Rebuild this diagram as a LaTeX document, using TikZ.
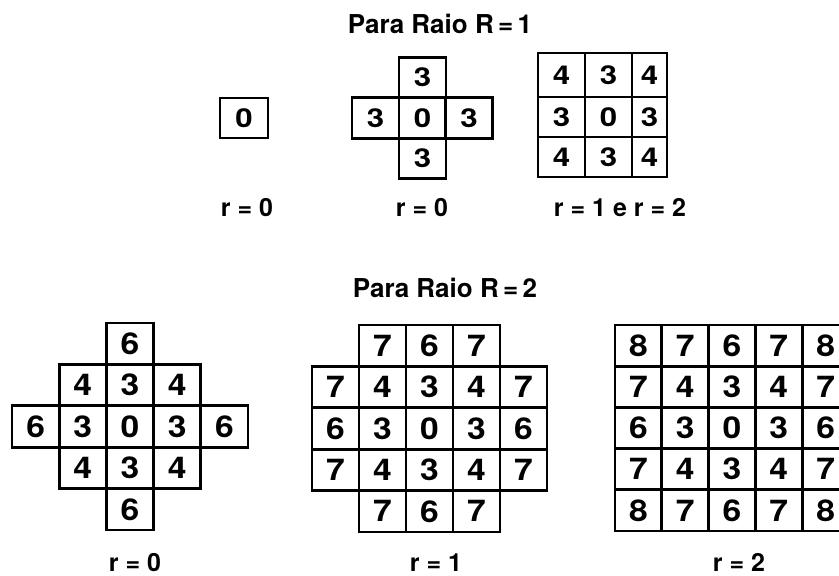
\documentclass[tikz,border=0pt]{standalone}
\usepackage{fontspec}
\setmainfont{TeX Gyre Heros}
\newfontfamily\widefont[FakeStretch=1.2]{TeX Gyre Heros}
\newfontfamily\widerfont[FakeStretch=1.12]{TeX Gyre Heros}
\begin{document}
\begin{tikzpicture}[x=1pt,y=-1pt,
  txt/.style={font=\fontsize{25}{28}\selectfont\bfseries, inner sep=0pt},
  cell/.style={draw, line width=2.8pt, inner sep=0pt,
               font=\widefont\fontsize{26}{30}\selectfont\bfseries,
               minimum width=47pt, minimum height=41pt},
  bigcell/.style={cell, font=\widerfont\fontsize{30}{34}\selectfont\bfseries},
  title/.style={txt, font=\fontsize{26}{30}\selectfont\bfseries, anchor=base},
  caption/.style={txt, anchor=base}]
\useasboundingbox (0,0) rectangle (839,576);
\clip (0,0) rectangle (839,576);

% ---- radius R = 1 ----
\node[title] (t1) at (440,33) {Para Raio R\,=\,1};

% single cell
\node[cell, minimum width=48pt, minimum height=40pt] (a0) at (244,118) {0};

% cross
\node[cell, minimum height=40.5pt] (bn) at (422.5,77.5) {3};
\node[cell, minimum height=40.5pt] (bw) at (375.5,118) {3};
\node[cell, minimum height=40.5pt] (bc) at (422.5,118) {0};
\node[cell, minimum height=40.5pt] (be) at (469,118) {3};
\node[cell, minimum height=40.5pt] (bs) at (422.5,158.5) {3};

% 3x3 block
\node[cell, minimum height=44pt] (c11) at (561.5,75) {4};
\node[cell, minimum height=44pt] (c12) at (608.5,75) {3};
\node[cell, minimum height=44pt, minimum width=35pt] (c13) at (649.5,75) {4};
\node[cell, minimum height=40pt] (c21) at (561.5,117) {3};
\node[cell, minimum height=40pt] (c22) at (608.5,117) {0};
\node[cell, minimum height=40pt, minimum width=35pt] (c23) at (649.5,117) {3};
\node[cell, minimum height=40pt] (c31) at (561.5,157) {4};
\node[cell, minimum height=40pt] (c32) at (608.5,157) {3};
\node[cell, minimum height=40pt, minimum width=35pt] (c33) at (649.5,157) {4};

\node[caption] (la) at (247,216) {r = 0};
\node[caption] (lb) at (422,216) {r = 0};
\node[caption] (lc) at (620,216) {r = 1 e r = 2};

% ---- radius R = 2 ----
\node[title] (t2) at (445,297) {Para Raio R\,=\,2};

% diamond (r = 0)
\foreach \r/\c/\v in {1/3/6,
    2/2/4, 2/3/3, 2/4/4,
    3/1/6, 3/2/3, 3/3/0, 3/4/3, 3/5/6,
    4/2/4, 4/3/3, 4/4/4,
    5/3/6}
  \node[bigcell, minimum width=47.2pt, minimum height=41.4pt] (d-\r-\c)
    at ({12+(\c-0.5)*47.2},{323+(\r-0.5)*41.4}) {\v};

% octagon (r = 1)
\foreach \r/\c/\v in {1/2/7, 1/3/6, 1/4/7,
    2/1/7, 2/2/4, 2/3/3, 2/4/4, 2/5/7,
    3/1/6, 3/2/3, 3/3/0, 3/4/3, 3/5/6,
    4/1/7, 4/2/4, 4/3/3, 4/4/4, 4/5/7,
    5/2/7, 5/3/6, 5/4/7}
  \node[bigcell, minimum width=47pt, minimum height=41.4pt] (e-\r-\c)
    at ({312+(\c-0.5)*47},{325+(\r-0.5)*41.4}) {\v};

% full square (r = 2)
\foreach \r/\c/\v in {1/1/8, 1/2/7, 1/3/6, 1/4/7, 1/5/8,
    2/1/7, 2/2/4, 2/3/3, 2/4/4, 2/5/7,
    3/1/6, 3/2/3, 3/3/0, 3/4/3, 3/5/6,
    4/1/7, 4/2/4, 4/3/3, 4/4/4, 4/5/7,
    5/1/8, 5/2/7, 5/3/6, 5/4/7, 5/5/8}
  \node[bigcell, minimum width=46.8pt, minimum height=41.2pt] (f-\r-\c)
    at ({615+(\c-0.5)*46.8},{325+(\r-0.5)*41.2}) {\v};

\node[caption] (ld) at (135,571) {r = 0};
\node[caption] (le) at (436,571) {r = 1};
\node[caption] (lf) at (739,571) {r = 2};
\end{tikzpicture}
\end{document}
